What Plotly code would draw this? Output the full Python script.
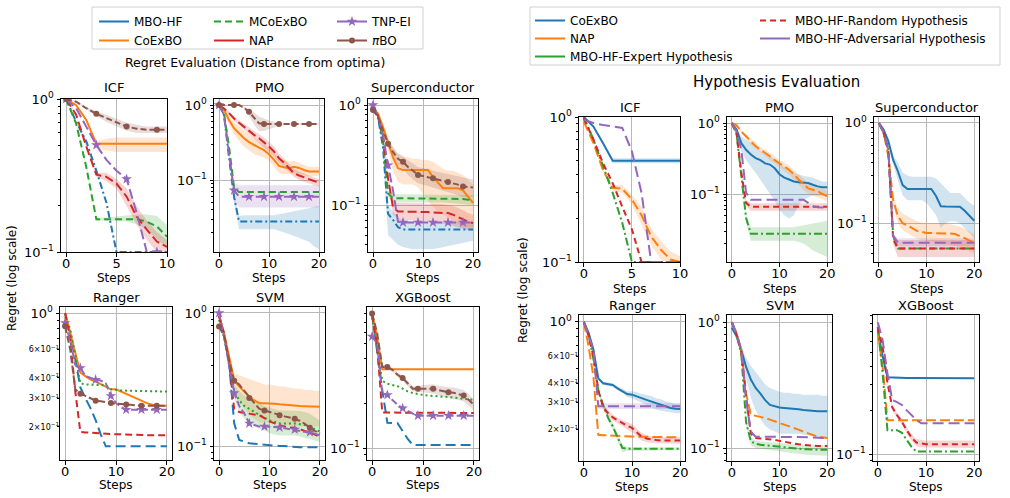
import plotly.graph_objects as go

W, H = 1010, 498
FONT = 'DejaVu Sans'
GRID = '#b8b8b8'
BLUE, ORANGE, GREEN, RED, PURPLE, BROWN = '#1f77b4', '#ff7f0e', '#2ca02c', '#d62728', '#9467bd', '#8c564b'

steps10 = [0, 1, 2, 3, 4, 5, 6, 7, 8, 9, 10]
steps20 = [0, 1, 2, 3, 4, 5, 6, 7, 8, 9, 10, 11, 12, 13, 14, 15, 16, 17, 18, 19, 20]
xticks10 = [0, 5, 10]
xticks20 = [0, 10, 20]

# ---------------- Regret Evaluation (left group) ----------------
# ICF
icf_mbo_hf     = [1.00, 0.71, 0.53, 0.34, 0.21, 0.100, 0.100, 0.100, 0.100, 0.100, 0.100]
icf_coexbo     = [1.00, 0.91, 0.73, 0.51, 0.51, 0.51, 0.51, 0.51, 0.51, 0.51, 0.51]
icf_coexbo_lo  = [1.00, 0.90, 0.72, 0.48, 0.46, 0.45, 0.45, 0.45, 0.45, 0.45, 0.45]
icf_coexbo_hi  = [1.00, 0.92, 0.74, 0.53, 0.55, 0.56, 0.56, 0.56, 0.56, 0.56, 0.56]
icf_mcoexbo    = [1.00, 0.69, 0.36, 0.164, 0.164, 0.164, 0.164, 0.164, 0.158, 0.147, 0.126]
icf_mcoexbo_lo = [1.00, 0.68, 0.35, 0.160, 0.160, 0.160, 0.158, 0.152, 0.140, 0.122, 0.105]
icf_mcoexbo_hi = [1.00, 0.70, 0.37, 0.168, 0.168, 0.170, 0.172, 0.176, 0.176, 0.172, 0.150]
icf_nap        = [1.00, 0.79, 0.49, 0.32, 0.31, 0.28, 0.23, 0.17, 0.14, 0.117, 0.108]
icf_nap_lo     = [1.00, 0.78, 0.48, 0.31, 0.29, 0.26, 0.20, 0.15, 0.12, 0.100, 0.095]
icf_nap_hi     = [1.00, 0.80, 0.50, 0.33, 0.33, 0.30, 0.26, 0.20, 0.16, 0.135, 0.120]
icf_tnp_ei     = [1.00, 0.87, 0.66, 0.50, 0.40, 0.34, 0.30, 0.18, 0.100, 0.100, 0.100]
icf_pibo       = [1.00, 0.96, 0.87, 0.80, 0.75, 0.70, 0.66, 0.64, 0.63, 0.63, 0.63]
icf_pibo_lo    = [1.00, 0.95, 0.85, 0.77, 0.71, 0.66, 0.62, 0.60, 0.60, 0.60, 0.60]
icf_pibo_hi    = [1.00, 0.97, 0.89, 0.83, 0.79, 0.74, 0.70, 0.68, 0.66, 0.66, 0.66]

# PMO
pmo_mbo_hf    = [1.00, 0.74, 0.20, 0.060, 0.028, 0.028, 0.028, 0.028, 0.028, 0.028, 0.028, 0.028, 0.028, 0.028, 0.028, 0.028, 0.028, 0.028, 0.028, 0.028, 0.028]
pmo_mbo_hf_lo = [1.00, 0.73, 0.19, 0.050, 0.022, 0.022, 0.022, 0.022, 0.022, 0.022, 0.022, 0.022, 0.021, 0.020, 0.019, 0.018, 0.017, 0.016, 0.015, 0.013, 0.012]
pmo_mbo_hf_hi = [1.00, 0.75, 0.21, 0.070, 0.033, 0.034, 0.034, 0.034, 0.034, 0.034, 0.034, 0.034, 0.035, 0.036, 0.037, 0.038, 0.039, 0.040, 0.042, 0.044, 0.045]
pmo_coexbo    = [1.00, 0.86, 0.63, 0.49, 0.42, 0.36, 0.32, 0.29, 0.27, 0.25, 0.22, 0.185, 0.154, 0.148, 0.143, 0.150, 0.145, 0.136, 0.130, 0.130, 0.130]
pmo_coexbo_lo = [1.00, 0.80, 0.55, 0.40, 0.33, 0.28, 0.25, 0.22, 0.21, 0.20, 0.18, 0.150, 0.125, 0.120, 0.118, 0.122, 0.120, 0.115, 0.112, 0.112, 0.112]
pmo_coexbo_hi = [1.00, 0.92, 0.72, 0.60, 0.52, 0.45, 0.40, 0.36, 0.33, 0.30, 0.27, 0.230, 0.200, 0.185, 0.175, 0.180, 0.170, 0.160, 0.150, 0.150, 0.150]
pmo_mcoexbo   = [1.00, 0.77, 0.28, 0.081, 0.069, 0.069, 0.069, 0.069, 0.069, 0.069, 0.069, 0.069, 0.069, 0.069, 0.069, 0.069, 0.069, 0.069, 0.069, 0.069, 0.069]
pmo_nap       = [1.00, 0.90, 0.78, 0.66, 0.58, 0.51, 0.45, 0.40, 0.36, 0.32, 0.28, 0.24, 0.195, 0.170, 0.145, 0.123, 0.115, 0.108, 0.102, 0.097, 0.092]
pmo_nap_lo    = [1.00, 0.88, 0.74, 0.62, 0.53, 0.46, 0.40, 0.35, 0.31, 0.27, 0.24, 0.20, 0.170, 0.150, 0.130, 0.110, 0.100, 0.095, 0.090, 0.085, 0.082]
pmo_nap_hi    = [1.00, 0.92, 0.82, 0.70, 0.63, 0.56, 0.50, 0.45, 0.41, 0.37, 0.32, 0.28, 0.225, 0.195, 0.165, 0.140, 0.130, 0.122, 0.115, 0.108, 0.102]
pmo_tnp_ei    = [1.00, 0.74, 0.23, 0.073, 0.060, 0.060, 0.060, 0.060, 0.060, 0.060, 0.060, 0.060, 0.060, 0.060, 0.060, 0.060, 0.060, 0.060, 0.060, 0.060, 0.060]
pmo_tnp_ei_lo = [1.00, 0.72, 0.20, 0.055, 0.043, 0.043, 0.043, 0.043, 0.043, 0.043, 0.043, 0.043, 0.043, 0.043, 0.043, 0.043, 0.043, 0.043, 0.043, 0.043, 0.043]
pmo_tnp_ei_hi = [1.00, 0.76, 0.26, 0.090, 0.085, 0.085, 0.085, 0.085, 0.085, 0.085, 0.085, 0.085, 0.085, 0.085, 0.085, 0.085, 0.085, 0.085, 0.085, 0.085, 0.085]
pmo_pibo      = [1.00, 1.00, 1.00, 1.00, 1.00, 0.92, 0.81, 0.68, 0.57, 0.56, 0.56, 0.56, 0.56, 0.56, 0.56, 0.56, 0.56, 0.56, 0.56, 0.56, 0.56]
pmo_pibo_lo   = [1.00, 1.00, 1.00, 1.00, 1.00, 0.88, 0.72, 0.55, 0.45, 0.45, 0.47, 0.50, 0.53, 0.54, 0.55, 0.55, 0.55, 0.55, 0.55, 0.55, 0.55]
pmo_pibo_hi   = [1.00, 1.00, 1.00, 1.00, 1.00, 0.95, 0.88, 0.80, 0.70, 0.66, 0.62, 0.60, 0.58, 0.57, 0.57, 0.57, 0.57, 0.57, 0.57, 0.57, 0.57]

# Superconductor
sup_mbo_hf     = [0.93, 0.75, 0.38, 0.082, 0.071, 0.060, 0.057, 0.057, 0.057, 0.057, 0.057, 0.057, 0.057, 0.057, 0.057, 0.057, 0.057, 0.057, 0.057, 0.057, 0.057]
sup_mbo_hf_lo  = [0.93, 0.73, 0.33, 0.050, 0.045, 0.040, 0.038, 0.037, 0.036, 0.036, 0.036, 0.036, 0.036, 0.037, 0.038, 0.039, 0.040, 0.041, 0.042, 0.043, 0.044]
sup_mbo_hf_hi  = [0.93, 0.77, 0.42, 0.100, 0.085, 0.075, 0.070, 0.069, 0.068, 0.068, 0.068, 0.068, 0.068, 0.068, 0.068, 0.068, 0.068, 0.068, 0.068, 0.068, 0.068]
sup_coexbo     = [0.90, 0.82, 0.60, 0.42, 0.30, 0.233, 0.224, 0.224, 0.224, 0.224, 0.224, 0.224, 0.190, 0.165, 0.147, 0.147, 0.147, 0.147, 0.140, 0.120, 0.105]
sup_coexbo_lo  = [0.90, 0.80, 0.55, 0.36, 0.22, 0.170, 0.160, 0.160, 0.160, 0.150, 0.130, 0.110, 0.095, 0.085, 0.080, 0.075, 0.070, 0.065, 0.060, 0.060, 0.060]
sup_coexbo_hi  = [0.90, 0.85, 0.66, 0.48, 0.38, 0.320, 0.300, 0.300, 0.290, 0.290, 0.280, 0.280, 0.270, 0.250, 0.230, 0.220, 0.220, 0.210, 0.200, 0.180, 0.160]
sup_mcoexbo    = [0.96, 0.76, 0.45, 0.130, 0.117, 0.117, 0.117, 0.117, 0.117, 0.117, 0.117, 0.117, 0.117, 0.117, 0.117, 0.117, 0.117, 0.116, 0.115, 0.113, 0.112]
sup_mcoexbo_lo = [0.96, 0.75, 0.44, 0.120, 0.106, 0.106, 0.106, 0.106, 0.106, 0.106, 0.106, 0.106, 0.106, 0.106, 0.106, 0.106, 0.105, 0.104, 0.103, 0.101, 0.100]
sup_mcoexbo_hi = [0.96, 0.77, 0.46, 0.140, 0.128, 0.128, 0.128, 0.128, 0.128, 0.128, 0.128, 0.128, 0.128, 0.128, 0.128, 0.128, 0.128, 0.127, 0.126, 0.125, 0.125]
sup_nap        = [0.90, 0.78, 0.50, 0.185, 0.095, 0.086, 0.086, 0.086, 0.086, 0.085, 0.085, 0.085, 0.084, 0.084, 0.083, 0.083, 0.080, 0.076, 0.071, 0.068, 0.066]
sup_nap_lo     = [0.90, 0.76, 0.46, 0.160, 0.080, 0.072, 0.070, 0.070, 0.070, 0.069, 0.069, 0.068, 0.067, 0.066, 0.065, 0.064, 0.062, 0.060, 0.058, 0.056, 0.055]
sup_nap_hi     = [0.90, 0.80, 0.54, 0.210, 0.110, 0.105, 0.105, 0.105, 0.104, 0.104, 0.104, 0.103, 0.103, 0.102, 0.102, 0.100, 0.098, 0.094, 0.088, 0.083, 0.080]
sup_tnp_ei     = [1.00, 0.79, 0.50, 0.25, 0.14, 0.068, 0.067, 0.067, 0.067, 0.067, 0.067, 0.067, 0.067, 0.067, 0.067, 0.067, 0.067, 0.067, 0.067, 0.067, 0.067]
sup_pibo       = [0.89, 0.76, 0.56, 0.41, 0.34, 0.29, 0.27, 0.24, 0.22, 0.200, 0.195, 0.190, 0.185, 0.180, 0.175, 0.170, 0.165, 0.160, 0.153, 0.152, 0.150]
sup_pibo_lo    = [0.89, 0.75, 0.54, 0.38, 0.30, 0.25, 0.23, 0.20, 0.18, 0.165, 0.160, 0.155, 0.150, 0.145, 0.140, 0.135, 0.130, 0.125, 0.120, 0.120, 0.120]
sup_pibo_hi    = [0.89, 0.77, 0.58, 0.44, 0.38, 0.33, 0.31, 0.28, 0.26, 0.240, 0.235, 0.230, 0.220, 0.215, 0.210, 0.205, 0.200, 0.195, 0.190, 0.185, 0.180]

# Ranger
rng_mbo_hf  = [1.00, 0.75, 0.52, 0.35, 0.30, 0.26, 0.22, 0.18, 0.152, 0.152, 0.152, 0.152, 0.152, 0.152, 0.152, 0.152, 0.152, 0.152, 0.152, 0.152, 0.152]
rng_coexbo  = [1.00, 0.75, 0.55, 0.43, 0.41, 0.39, 0.38, 0.365, 0.35, 0.34, 0.34, 0.33, 0.32, 0.31, 0.30, 0.29, 0.28, 0.275, 0.27, 0.27, 0.27]
rng_mcoexbo = [0.95, 0.80, 0.55, 0.37, 0.365, 0.363, 0.362, 0.36, 0.36, 0.34, 0.336, 0.335, 0.334, 0.333, 0.332, 0.332, 0.331, 0.33, 0.33, 0.33, 0.33]
rng_nap     = [1.00, 0.70, 0.33, 0.186, 0.185, 0.184, 0.183, 0.182, 0.181, 0.180, 0.180, 0.180, 0.179, 0.179, 0.179, 0.178, 0.178, 0.178, 0.178, 0.178, 0.178]
rng_tnp_ei  = [0.87, 0.68, 0.48, 0.46, 0.41, 0.40, 0.39, 0.385, 0.37, 0.31, 0.28, 0.265, 0.255, 0.255, 0.255, 0.255, 0.255, 0.255, 0.255, 0.255, 0.255]
rng_pibo    = [0.83, 0.60, 0.34, 0.32, 0.31, 0.30, 0.29, 0.287, 0.285, 0.28, 0.278, 0.276, 0.275, 0.273, 0.272, 0.27, 0.27, 0.27, 0.27, 0.27, 0.27]

# SVM
svm_mbo_hf     = [0.95, 0.70, 0.42, 0.148, 0.111, 0.108, 0.105, 0.104, 0.103, 0.102, 0.102, 0.101, 0.100, 0.100, 0.099, 0.098, 0.098, 0.098, 0.098, 0.098, 0.098]
svm_coexbo     = [0.95, 0.70, 0.47, 0.31, 0.28, 0.255, 0.235, 0.22, 0.21, 0.21, 0.21, 0.208, 0.206, 0.204, 0.202, 0.200, 0.200, 0.199, 0.198, 0.197, 0.197]
svm_coexbo_lo  = [0.95, 0.68, 0.43, 0.27, 0.22, 0.19, 0.17, 0.16, 0.15, 0.15, 0.15, 0.148, 0.146, 0.144, 0.142, 0.140, 0.140, 0.140, 0.140, 0.140, 0.140]
svm_coexbo_hi  = [0.95, 0.72, 0.50, 0.35, 0.34, 0.33, 0.32, 0.31, 0.30, 0.29, 0.29, 0.285, 0.280, 0.280, 0.275, 0.270, 0.270, 0.265, 0.265, 0.260, 0.260]
svm_mcoexbo    = [0.89, 0.65, 0.42, 0.26, 0.22, 0.20, 0.19, 0.18, 0.17, 0.163, 0.156, 0.152, 0.148, 0.148, 0.148, 0.148, 0.146, 0.144, 0.140, 0.134, 0.128]
svm_mcoexbo_lo = [0.89, 0.63, 0.40, 0.23, 0.18, 0.16, 0.15, 0.14, 0.135, 0.130, 0.125, 0.122, 0.120, 0.120, 0.120, 0.120, 0.118, 0.116, 0.113, 0.110, 0.107]
svm_mcoexbo_hi = [0.89, 0.67, 0.44, 0.29, 0.26, 0.24, 0.23, 0.22, 0.21, 0.200, 0.195, 0.190, 0.185, 0.185, 0.185, 0.185, 0.183, 0.180, 0.175, 0.165, 0.155]
svm_nap        = [0.95, 0.70, 0.42, 0.19, 0.18, 0.178, 0.176, 0.173, 0.17, 0.162, 0.153, 0.148, 0.143, 0.140, 0.138, 0.137, 0.134, 0.130, 0.127, 0.122, 0.117]
svm_tnp_ei     = [1.00, 0.67, 0.40, 0.25, 0.20, 0.176, 0.148, 0.143, 0.14, 0.14, 0.14, 0.139, 0.138, 0.136, 0.134, 0.133, 0.130, 0.129, 0.127, 0.124, 0.120]
svm_pibo       = [0.79, 0.67, 0.44, 0.31, 0.29, 0.26, 0.23, 0.21, 0.19, 0.185, 0.18, 0.175, 0.170, 0.167, 0.164, 0.160, 0.155, 0.147, 0.137, 0.130, 0.124]

# XGBoost
xgb_mbo_hf  = [0.80, 0.43, 0.245, 0.148, 0.148, 0.147, 0.130, 0.115, 0.105, 0.105, 0.105, 0.105, 0.105, 0.105, 0.105, 0.105, 0.105, 0.105, 0.105, 0.105, 0.105]
xgb_coexbo  = [0.80, 0.55, 0.338, 0.338, 0.338, 0.338, 0.338, 0.338, 0.338, 0.338, 0.338, 0.338, 0.338, 0.338, 0.338, 0.338, 0.338, 0.338, 0.338, 0.338, 0.338]
xgb_mcoexbo = [0.75, 0.45, 0.283, 0.27, 0.265, 0.26, 0.25, 0.24, 0.234, 0.23, 0.227, 0.225, 0.223, 0.222, 0.221, 0.22, 0.218, 0.216, 0.214, 0.212, 0.21]
xgb_nap     = [0.78, 0.48, 0.173, 0.173, 0.173, 0.173, 0.173, 0.173, 0.173, 0.173, 0.173, 0.173, 0.173, 0.173, 0.172, 0.172, 0.172, 0.172, 0.172, 0.172, 0.172]
xgb_tnp_ei  = [0.56, 0.50, 0.233, 0.227, 0.21, 0.195, 0.185, 0.177, 0.17, 0.165, 0.165, 0.165, 0.165, 0.165, 0.165, 0.165, 0.165, 0.165, 0.165, 0.165, 0.165]
xgb_pibo    = [0.80, 0.59, 0.35, 0.35, 0.335, 0.31, 0.295, 0.27, 0.25, 0.25, 0.25, 0.25, 0.25, 0.245, 0.24, 0.237, 0.235, 0.23, 0.225, 0.21, 0.195]
xgb_pibo_lo = [0.80, 0.58, 0.34, 0.34, 0.325, 0.30, 0.285, 0.26, 0.24, 0.238, 0.236, 0.234, 0.232, 0.228, 0.222, 0.218, 0.215, 0.21, 0.205, 0.19, 0.178]
xgb_pibo_hi = [0.80, 0.60, 0.36, 0.36, 0.345, 0.32, 0.305, 0.28, 0.26, 0.262, 0.264, 0.266, 0.268, 0.262, 0.258, 0.256, 0.255, 0.25, 0.245, 0.23, 0.212]

# ---------------- Hypothesis Evaluation (right group) ----------------
h_icf_coexbo      = [1.00, 0.86, 0.66, 0.50, 0.50, 0.50, 0.50, 0.50, 0.50, 0.50, 0.50]
h_icf_coexbo_lo   = [1.00, 0.85, 0.65, 0.48, 0.48, 0.48, 0.48, 0.48, 0.48, 0.48, 0.48]
h_icf_coexbo_hi   = [1.00, 0.87, 0.67, 0.52, 0.52, 0.52, 0.52, 0.52, 0.52, 0.52, 0.52]
h_icf_nap         = [0.93, 0.66, 0.43, 0.325, 0.32, 0.27, 0.21, 0.15, 0.122, 0.104, 0.100]
h_icf_nap_lo      = [0.93, 0.65, 0.42, 0.31, 0.30, 0.25, 0.18, 0.13, 0.105, 0.095, 0.090]
h_icf_nap_hi      = [0.93, 0.67, 0.44, 0.34, 0.34, 0.29, 0.24, 0.17, 0.140, 0.118, 0.110]
h_icf_expert      = [1.00, 0.70, 0.46, 0.30, 0.186, 0.100, 0.100, 0.100, 0.100, 0.100, 0.100]
h_icf_random      = [0.98, 0.70, 0.48, 0.35, 0.24, 0.168, 0.100, 0.100, 0.100, 0.100, 0.100]
h_icf_adversarial = [0.96, 0.91, 0.88, 0.86, 0.84, 0.58, 0.30, 0.100, 0.100, 0.100, 0.100]

h_pmo_coexbo      = [1.00, 0.81, 0.52, 0.42, 0.36, 0.32, 0.30, 0.27, 0.26, 0.23, 0.19, 0.17, 0.16, 0.15, 0.146, 0.146, 0.143, 0.135, 0.128, 0.125, 0.125]
h_pmo_coexbo_lo   = [1.00, 0.75, 0.40, 0.30, 0.24, 0.20, 0.16, 0.13, 0.10, 0.08, 0.06, 0.05, 0.045, 0.05, 0.07, 0.08, 0.09, 0.095, 0.095, 0.095, 0.095]
h_pmo_coexbo_hi   = [1.00, 0.86, 0.65, 0.58, 0.52, 0.45, 0.40, 0.36, 0.34, 0.31, 0.27, 0.24, 0.22, 0.20, 0.19, 0.18, 0.175, 0.17, 0.16, 0.15, 0.15]
h_pmo_nap         = [1.00, 0.93, 0.76, 0.65, 0.55, 0.47, 0.42, 0.38, 0.34, 0.30, 0.27, 0.245, 0.22, 0.19, 0.16, 0.14, 0.12, 0.115, 0.11, 0.10, 0.093]
h_pmo_nap_lo      = [1.00, 0.90, 0.72, 0.60, 0.50, 0.43, 0.38, 0.34, 0.30, 0.27, 0.24, 0.21, 0.19, 0.16, 0.135, 0.115, 0.10, 0.095, 0.09, 0.085, 0.08]
h_pmo_nap_hi      = [1.00, 0.96, 0.80, 0.70, 0.60, 0.52, 0.46, 0.42, 0.38, 0.34, 0.30, 0.28, 0.25, 0.22, 0.19, 0.165, 0.14, 0.135, 0.13, 0.12, 0.11]
h_pmo_expert      = [1.00, 0.70, 0.18, 0.046, 0.0276, 0.0276, 0.0276, 0.0276, 0.0276, 0.0276, 0.0276, 0.0276, 0.0276, 0.0276, 0.0276, 0.0276, 0.0276, 0.0276, 0.0276, 0.0276, 0.0276]
h_pmo_expert_lo   = [1.00, 0.69, 0.17, 0.040, 0.022, 0.022, 0.022, 0.022, 0.022, 0.022, 0.022, 0.022, 0.022, 0.022, 0.021, 0.020, 0.018, 0.016, 0.015, 0.014, 0.013]
h_pmo_expert_hi   = [1.00, 0.71, 0.19, 0.052, 0.034, 0.034, 0.034, 0.034, 0.034, 0.034, 0.034, 0.034, 0.034, 0.034, 0.035, 0.036, 0.037, 0.038, 0.040, 0.041, 0.042]
h_pmo_random      = [1.00, 0.72, 0.20, 0.075, 0.066, 0.066, 0.066, 0.066, 0.066, 0.066, 0.066, 0.066, 0.066, 0.066, 0.066, 0.066, 0.066, 0.066, 0.066, 0.066, 0.066]
h_pmo_random_lo   = [1.00, 0.71, 0.19, 0.068, 0.058, 0.058, 0.058, 0.058, 0.058, 0.058, 0.058, 0.058, 0.058, 0.058, 0.058, 0.058, 0.058, 0.058, 0.058, 0.058, 0.058]
h_pmo_random_hi   = [1.00, 0.73, 0.21, 0.082, 0.074, 0.074, 0.074, 0.074, 0.074, 0.074, 0.074, 0.074, 0.074, 0.074, 0.074, 0.074, 0.074, 0.074, 0.074, 0.074, 0.074]
h_pmo_adversarial = [1.00, 0.76, 0.42, 0.104, 0.083, 0.083, 0.083, 0.083, 0.083, 0.083, 0.083, 0.083, 0.083, 0.083, 0.083, 0.083, 0.075, 0.067, 0.065, 0.064, 0.064]

h_sup_coexbo         = [1.00, 0.86, 0.66, 0.43, 0.33, 0.24, 0.22, 0.22, 0.22, 0.22, 0.22, 0.22, 0.187, 0.148, 0.147, 0.146, 0.146, 0.146, 0.133, 0.120, 0.106]
h_sup_coexbo_lo      = [1.00, 0.84, 0.62, 0.38, 0.27, 0.19, 0.17, 0.17, 0.17, 0.17, 0.16, 0.14, 0.120, 0.090, 0.100, 0.105, 0.105, 0.100, 0.090, 0.080, 0.070]
h_sup_coexbo_hi      = [1.00, 0.88, 0.70, 0.48, 0.40, 0.32, 0.30, 0.29, 0.29, 0.29, 0.29, 0.29, 0.280, 0.250, 0.220, 0.200, 0.200, 0.200, 0.180, 0.160, 0.150]
h_sup_nap            = [1.00, 0.80, 0.47, 0.17, 0.118, 0.100, 0.095, 0.090, 0.084, 0.082, 0.080, 0.080, 0.080, 0.080, 0.080, 0.079, 0.078, 0.075, 0.071, 0.067, 0.064]
h_sup_nap_lo         = [1.00, 0.78, 0.44, 0.15, 0.100, 0.085, 0.080, 0.075, 0.070, 0.068, 0.066, 0.065, 0.064, 0.063, 0.062, 0.061, 0.060, 0.058, 0.055, 0.052, 0.050]
h_sup_nap_hi         = [1.00, 0.82, 0.50, 0.19, 0.140, 0.125, 0.118, 0.112, 0.105, 0.102, 0.100, 0.100, 0.100, 0.100, 0.100, 0.098, 0.096, 0.093, 0.088, 0.083, 0.078]
h_sup_expert         = [1.00, 0.80, 0.55, 0.075, 0.056, 0.056, 0.056, 0.056, 0.056, 0.056, 0.056, 0.056, 0.056, 0.056, 0.056, 0.056, 0.056, 0.056, 0.056, 0.056, 0.056]
h_sup_random         = [1.00, 0.80, 0.54, 0.070, 0.056, 0.056, 0.056, 0.056, 0.056, 0.056, 0.056, 0.056, 0.056, 0.056, 0.056, 0.056, 0.056, 0.056, 0.056, 0.056, 0.056]
h_sup_random_lo      = [1.00, 0.79, 0.52, 0.062, 0.046, 0.046, 0.046, 0.046, 0.046, 0.046, 0.046, 0.046, 0.046, 0.046, 0.046, 0.046, 0.046, 0.046, 0.046, 0.046, 0.046]
h_sup_random_hi      = [1.00, 0.81, 0.56, 0.078, 0.068, 0.068, 0.068, 0.068, 0.068, 0.068, 0.068, 0.068, 0.068, 0.068, 0.068, 0.068, 0.068, 0.068, 0.068, 0.068, 0.068]
h_sup_adversarial    = [1.00, 0.80, 0.54, 0.075, 0.064, 0.064, 0.064, 0.064, 0.064, 0.064, 0.064, 0.064, 0.064, 0.064, 0.064, 0.064, 0.064, 0.064, 0.064, 0.064, 0.064]
h_sup_adversarial_lo = [1.00, 0.79, 0.53, 0.070, 0.059, 0.059, 0.059, 0.059, 0.059, 0.059, 0.059, 0.059, 0.059, 0.059, 0.059, 0.059, 0.059, 0.059, 0.059, 0.059, 0.059]
h_sup_adversarial_hi = [1.00, 0.81, 0.55, 0.080, 0.071, 0.071, 0.071, 0.071, 0.071, 0.071, 0.071, 0.071, 0.071, 0.071, 0.071, 0.071, 0.071, 0.071, 0.071, 0.071, 0.071]

h_rng_coexbo      = [1.00, 0.85, 0.66, 0.43, 0.40, 0.395, 0.39, 0.37, 0.355, 0.34, 0.337, 0.33, 0.32, 0.312, 0.305, 0.297, 0.29, 0.283, 0.276, 0.273, 0.272]
h_rng_coexbo_lo   = [1.00, 0.84, 0.64, 0.42, 0.39, 0.385, 0.38, 0.36, 0.345, 0.325, 0.32, 0.31, 0.30, 0.29, 0.28, 0.27, 0.265, 0.26, 0.258, 0.256, 0.255]
h_rng_coexbo_hi   = [1.00, 0.86, 0.68, 0.44, 0.41, 0.405, 0.40, 0.38, 0.37, 0.355, 0.355, 0.35, 0.34, 0.335, 0.33, 0.32, 0.315, 0.305, 0.30, 0.295, 0.295]
h_rng_nap         = [1.00, 0.69, 0.44, 0.185, 0.184, 0.183, 0.182, 0.182, 0.181, 0.181, 0.180, 0.180, 0.180, 0.179, 0.179, 0.179, 0.178, 0.178, 0.178, 0.178, 0.178]
h_rng_expert      = [1.00, 0.83, 0.57, 0.36, 0.29, 0.24, 0.21, 0.18, 0.152, 0.150, 0.150, 0.150, 0.150, 0.150, 0.150, 0.150, 0.150, 0.150, 0.150, 0.150, 0.150]
h_rng_expert_lo   = [1.00, 0.82, 0.56, 0.35, 0.28, 0.23, 0.20, 0.17, 0.142, 0.146, 0.147, 0.147, 0.147, 0.147, 0.147, 0.147, 0.147, 0.147, 0.147, 0.147, 0.147]
h_rng_expert_hi   = [1.00, 0.84, 0.58, 0.37, 0.30, 0.25, 0.22, 0.19, 0.160, 0.154, 0.153, 0.153, 0.153, 0.153, 0.153, 0.153, 0.153, 0.153, 0.153, 0.153, 0.153]
h_rng_random      = [1.00, 0.81, 0.60, 0.36, 0.28, 0.256, 0.24, 0.23, 0.22, 0.212, 0.205, 0.192, 0.18, 0.175, 0.172, 0.171, 0.17, 0.17, 0.17, 0.17, 0.17]
h_rng_random_lo   = [1.00, 0.80, 0.58, 0.35, 0.27, 0.245, 0.23, 0.22, 0.21, 0.200, 0.193, 0.181, 0.17, 0.166, 0.164, 0.163, 0.162, 0.162, 0.162, 0.162, 0.162]
h_rng_random_hi   = [1.00, 0.82, 0.62, 0.37, 0.29, 0.267, 0.25, 0.24, 0.23, 0.224, 0.217, 0.203, 0.19, 0.184, 0.180, 0.179, 0.178, 0.178, 0.178, 0.178, 0.178]
h_rng_adversarial = [1.00, 0.81, 0.66, 0.283, 0.283, 0.283, 0.283, 0.283, 0.283, 0.283, 0.283, 0.283, 0.283, 0.283, 0.283, 0.283, 0.283, 0.283, 0.283, 0.283, 0.283]
h_rng_adversarial_lo = [1.00, 0.80, 0.65, 0.272, 0.272, 0.272, 0.272, 0.272, 0.272, 0.272, 0.272, 0.272, 0.272, 0.272, 0.272, 0.272, 0.272, 0.272, 0.272, 0.272, 0.272]
h_rng_adversarial_hi = [1.00, 0.82, 0.67, 0.296, 0.296, 0.296, 0.296, 0.296, 0.296, 0.296, 0.296, 0.296, 0.296, 0.296, 0.296, 0.296, 0.296, 0.296, 0.296, 0.296, 0.296]

h_svm_coexbo      = [0.90, 0.77, 0.60, 0.44, 0.35, 0.30, 0.27, 0.24, 0.22, 0.214, 0.21, 0.208, 0.207, 0.205, 0.203, 0.200, 0.198, 0.197, 0.196, 0.196, 0.196]
h_svm_coexbo_lo   = [0.90, 0.75, 0.55, 0.36, 0.25, 0.20, 0.17, 0.15, 0.14, 0.135, 0.13, 0.13, 0.13, 0.13, 0.13, 0.128, 0.126, 0.124, 0.122, 0.12, 0.12]
h_svm_coexbo_hi   = [0.90, 0.80, 0.65, 0.52, 0.45, 0.40, 0.36, 0.32, 0.30, 0.29, 0.28, 0.275, 0.275, 0.27, 0.27, 0.265, 0.265, 0.265, 0.265, 0.26, 0.26]
h_svm_nap         = [1.00, 0.80, 0.60, 0.27, 0.184, 0.181, 0.178, 0.173, 0.168, 0.163, 0.158, 0.154, 0.150, 0.145, 0.140, 0.135, 0.130, 0.127, 0.123, 0.121, 0.120]
h_svm_expert      = [1.00, 0.80, 0.55, 0.16, 0.113, 0.108, 0.106, 0.105, 0.104, 0.103, 0.103, 0.102, 0.101, 0.100, 0.099, 0.098, 0.098, 0.097, 0.097, 0.097, 0.097]
h_svm_expert_lo   = [1.00, 0.79, 0.53, 0.15, 0.105, 0.100, 0.098, 0.097, 0.096, 0.095, 0.094, 0.093, 0.092, 0.091, 0.090, 0.089, 0.088, 0.087, 0.087, 0.087, 0.087]
h_svm_expert_hi   = [1.00, 0.81, 0.57, 0.17, 0.120, 0.115, 0.113, 0.112, 0.111, 0.110, 0.110, 0.109, 0.108, 0.107, 0.106, 0.105, 0.105, 0.105, 0.105, 0.105, 0.105]
h_svm_random      = [1.00, 0.80, 0.58, 0.257, 0.130, 0.120, 0.119, 0.118, 0.118, 0.116, 0.114, 0.112, 0.110, 0.108, 0.107, 0.106, 0.105, 0.105, 0.104, 0.104, 0.104]
h_svm_adversarial = [1.00, 0.82, 0.60, 0.24, 0.135, 0.123, 0.123, 0.123, 0.123, 0.123, 0.123, 0.123, 0.123, 0.123, 0.123, 0.123, 0.122, 0.121, 0.121, 0.120, 0.120]

h_xgb_coexbo      = [0.72, 0.47, 0.338, 0.336, 0.335, 0.335, 0.334, 0.334, 0.334, 0.334, 0.333, 0.333, 0.333, 0.333, 0.333, 0.333, 0.333, 0.333, 0.333, 0.333, 0.333]
h_xgb_nap         = [0.68, 0.40, 0.171, 0.171, 0.171, 0.171, 0.171, 0.171, 0.171, 0.171, 0.171, 0.171, 0.171, 0.171, 0.171, 0.171, 0.171, 0.171, 0.171, 0.171, 0.171]
h_xgb_expert      = [0.75, 0.36, 0.146, 0.146, 0.146, 0.140, 0.125, 0.112, 0.104, 0.104, 0.104, 0.104, 0.104, 0.104, 0.104, 0.104, 0.104, 0.104, 0.104, 0.104, 0.104]
h_xgb_random      = [0.75, 0.55, 0.31, 0.21, 0.185, 0.167, 0.146, 0.130, 0.120, 0.118, 0.117, 0.117, 0.117, 0.117, 0.117, 0.117, 0.117, 0.117, 0.117, 0.117, 0.117]
h_xgb_random_lo   = [0.75, 0.54, 0.30, 0.20, 0.177, 0.159, 0.139, 0.123, 0.113, 0.111, 0.110, 0.110, 0.110, 0.110, 0.110, 0.110, 0.110, 0.110, 0.110, 0.110, 0.110]
h_xgb_random_hi   = [0.75, 0.56, 0.32, 0.22, 0.193, 0.175, 0.153, 0.137, 0.127, 0.125, 0.124, 0.124, 0.124, 0.124, 0.124, 0.124, 0.124, 0.124, 0.124, 0.124, 0.124]
h_xgb_adversarial = [0.81, 0.61, 0.36, 0.236, 0.228, 0.218, 0.200, 0.185, 0.172, 0.163, 0.163, 0.163, 0.163, 0.163, 0.163, 0.163, 0.163, 0.163, 0.163, 0.163, 0.163]

# ---------------- styles ----------------
DOT = '2px,3px'
fig = go.Figure()


def rgba(c, a):
    return 'rgba(%d,%d,%d,%s)' % (int(c[1:3], 16), int(c[3:5], 16), int(c[5:7], 16), a)


def names(i):
    return ('x' if i == 1 else 'x%d' % i, 'y' if i == 1 else 'y%d' % i)


def S(x, y, color, dash, lo=None, hi=None, marker=None):
    return dict(x=x, y=y, color=color, dash=dash, lo=lo, hi=hi, marker=marker)


def add_panel(i, series):
    xa, ya = names(i)
    for s in series:
        if s['lo'] is not None:
            x = s['x']
            fig.add_trace(go.Scatter(x=x + x[::-1], y=s['hi'] + s['lo'][::-1], fill='toself',
                                     fillcolor=rgba(s['color'], 0.2), line=dict(width=0), mode='lines',
                                     hoverinfo='skip', showlegend=False, xaxis=xa, yaxis=ya))
    for s in series:
        fig.add_trace(go.Scatter(x=s['x'], y=s['y'], mode='lines',
                                 line=dict(color=s['color'], width=2, dash=s['dash']),
                                 hoverinfo='skip', showlegend=False, xaxis=xa, yaxis=ya))
        if s['marker']:
            idx = list(range(0, len(s['x']), 3))
            fig.add_trace(go.Scatter(x=[s['x'][k] for k in idx], y=[s['y'][k] for k in idx], mode='markers',
                                     marker=dict(symbol=s['marker'], size=8 if s['marker'] == 'star' else 6,
                                                 color=s['color'], line=dict(width=0)),
                                     hoverinfo='skip', showlegend=False, xaxis=xa, yaxis=ya))


LT = dict(mbo='7px,3px,2px,3px', mco='7px,4px', nap='9px,4px', tnp='10px,4px', pibo='6px,3px')
LB = dict(mbo='10px,5px', mco=DOT, nap='7px,4px', tnp='7px,3px', pibo='7px,3px')
RS = dict(nap='10px,4px', exp='8px,3px,2px,3px', rnd='6px,4px', adv='11px,5px')

add_panel(1, [
    S(steps10, icf_mbo_hf, BLUE, LT['mbo']),
    S(steps10, icf_coexbo, ORANGE, 'solid', icf_coexbo_lo, icf_coexbo_hi),
    S(steps10, icf_mcoexbo, GREEN, LT['mco'], icf_mcoexbo_lo, icf_mcoexbo_hi),
    S(steps10, icf_nap, RED, LT['nap'], icf_nap_lo, icf_nap_hi),
    S(steps10, icf_tnp_ei, PURPLE, LT['tnp'], marker='star'),
    S(steps10, icf_pibo, BROWN, LT['pibo'], icf_pibo_lo, icf_pibo_hi, marker='circle'),
])
add_panel(2, [
    S(steps20, pmo_mbo_hf, BLUE, LT['mbo'], pmo_mbo_hf_lo, pmo_mbo_hf_hi),
    S(steps20, pmo_coexbo, ORANGE, 'solid', pmo_coexbo_lo, pmo_coexbo_hi),
    S(steps20, pmo_mcoexbo, GREEN, LT['mco']),
    S(steps20, pmo_nap, RED, LT['nap'], pmo_nap_lo, pmo_nap_hi),
    S(steps20, pmo_tnp_ei, PURPLE, LT['tnp'], pmo_tnp_ei_lo, pmo_tnp_ei_hi, marker='star'),
    S(steps20, pmo_pibo, BROWN, LT['pibo'], pmo_pibo_lo, pmo_pibo_hi, marker='circle'),
])
add_panel(3, [
    S(steps20, sup_mbo_hf, BLUE, LT['mbo'], sup_mbo_hf_lo, sup_mbo_hf_hi),
    S(steps20, sup_coexbo, ORANGE, 'solid', sup_coexbo_lo, sup_coexbo_hi),
    S(steps20, sup_mcoexbo, GREEN, LT['mco'], sup_mcoexbo_lo, sup_mcoexbo_hi),
    S(steps20, sup_nap, RED, LT['nap'], sup_nap_lo, sup_nap_hi),
    S(steps20, sup_tnp_ei, PURPLE, LT['tnp'], marker='star'),
    S(steps20, sup_pibo, BROWN, LT['pibo'], sup_pibo_lo, sup_pibo_hi, marker='circle'),
])
add_panel(4, [
    S(steps20, rng_mbo_hf, BLUE, LB['mbo']),
    S(steps20, rng_coexbo, ORANGE, 'solid'),
    S(steps20, rng_mcoexbo, GREEN, LB['mco']),
    S(steps20, rng_nap, RED, LB['nap']),
    S(steps20, rng_tnp_ei, PURPLE, LB['tnp'], marker='star'),
    S(steps20, rng_pibo, BROWN, LB['pibo'], marker='circle'),
])
add_panel(5, [
    S(steps20, svm_mbo_hf, BLUE, LB['mbo']),
    S(steps20, svm_coexbo, ORANGE, 'solid', svm_coexbo_lo, svm_coexbo_hi),
    S(steps20, svm_mcoexbo, GREEN, LB['mco'], svm_mcoexbo_lo, svm_mcoexbo_hi),
    S(steps20, svm_nap, RED, LB['nap']),
    S(steps20, svm_tnp_ei, PURPLE, LB['tnp'], marker='star'),
    S(steps20, svm_pibo, BROWN, LB['pibo'], marker='circle'),
])
add_panel(6, [
    S(steps20, xgb_mbo_hf, BLUE, LB['mbo']),
    S(steps20, xgb_coexbo, ORANGE, 'solid'),
    S(steps20, xgb_mcoexbo, GREEN, LB['mco']),
    S(steps20, xgb_nap, RED, LB['nap']),
    S(steps20, xgb_tnp_ei, PURPLE, LB['tnp'], marker='star'),
    S(steps20, xgb_pibo, BROWN, LB['pibo'], xgb_pibo_lo, xgb_pibo_hi, marker='circle'),
])
add_panel(7, [
    S(steps10, h_icf_coexbo, BLUE, 'solid', h_icf_coexbo_lo, h_icf_coexbo_hi),
    S(steps10, h_icf_nap, ORANGE, RS['nap'], h_icf_nap_lo, h_icf_nap_hi),
    S(steps10, h_icf_expert, GREEN, RS['exp']),
    S(steps10, h_icf_random, RED, RS['rnd']),
    S(steps10, h_icf_adversarial, PURPLE, RS['adv']),
])
add_panel(8, [
    S(steps20, h_pmo_coexbo, BLUE, 'solid', h_pmo_coexbo_lo, h_pmo_coexbo_hi),
    S(steps20, h_pmo_nap, ORANGE, RS['nap'], h_pmo_nap_lo, h_pmo_nap_hi),
    S(steps20, h_pmo_expert, GREEN, RS['exp'], h_pmo_expert_lo, h_pmo_expert_hi),
    S(steps20, h_pmo_random, RED, RS['rnd'], h_pmo_random_lo, h_pmo_random_hi),
    S(steps20, h_pmo_adversarial, PURPLE, RS['adv']),
])
add_panel(9, [
    S(steps20, h_sup_coexbo, BLUE, 'solid', h_sup_coexbo_lo, h_sup_coexbo_hi),
    S(steps20, h_sup_nap, ORANGE, RS['nap'], h_sup_nap_lo, h_sup_nap_hi),
    S(steps20, h_sup_expert, GREEN, RS['exp']),
    S(steps20, h_sup_random, RED, RS['rnd'], h_sup_random_lo, h_sup_random_hi),
    S(steps20, h_sup_adversarial, PURPLE, RS['adv'], h_sup_adversarial_lo, h_sup_adversarial_hi),
])
add_panel(10, [
    S(steps20, h_rng_coexbo, BLUE, 'solid', h_rng_coexbo_lo, h_rng_coexbo_hi),
    S(steps20, h_rng_nap, ORANGE, RS['nap']),
    S(steps20, h_rng_expert, GREEN, RS['exp'], h_rng_expert_lo, h_rng_expert_hi),
    S(steps20, h_rng_random, RED, RS['rnd'], h_rng_random_lo, h_rng_random_hi),
    S(steps20, h_rng_adversarial, PURPLE, RS['adv'], h_rng_adversarial_lo, h_rng_adversarial_hi),
])
add_panel(11, [
    S(steps20, h_svm_coexbo, BLUE, 'solid', h_svm_coexbo_lo, h_svm_coexbo_hi),
    S(steps20, h_svm_nap, ORANGE, RS['nap']),
    S(steps20, h_svm_expert, GREEN, RS['exp'], h_svm_expert_lo, h_svm_expert_hi),
    S(steps20, h_svm_random, RED, RS['rnd']),
    S(steps20, h_svm_adversarial, PURPLE, RS['adv']),
])
add_panel(12, [
    S(steps20, h_xgb_coexbo, BLUE, 'solid'),
    S(steps20, h_xgb_nap, ORANGE, RS['nap']),
    S(steps20, h_xgb_expert, GREEN, RS['exp']),
    S(steps20, h_xgb_random, RED, RS['rnd'], h_xgb_random_lo, h_xgb_random_hi),
    S(steps20, h_xgb_adversarial, PURPLE, RS['adv']),
])

# ---------------- axes ----------------
PANELS = [
    (1, 61, 167, 99, 252, [-0.5, 10], xticks10, [-1.0, 0.0], [0.1, 1], 'ICF', 88, 278),
    (2, 214, 324, 99, 252, [-1, 21], xticks20, [-1.96, 0.08], [0.1, 1], 'PMO', 88, 278),
    (3, 368, 478, 99, 252, [-1, 21], xticks20, [-1.47, 0.06], [0.1, 1], 'Superconductor', 88, 278),
    (4, 60, 172, 307, 460, [-1, 21], xticks20, [-0.902, 0.037], [1], 'Ranger', 297, 485),
    (5, 214, 325, 307, 460, [-1, 21], xticks20, [-1.105, 0.045], [0.1, 1], 'SVM', 297, 485),
    (6, 367, 479, 307, 460, [-1, 21], xticks20, [-1.08, -0.054], [0.1], 'XGBoost', 297, 485),
    (7, 579, 680, 117, 262, [-0.5, 10], xticks10, [-1.0, 0.0], [0.1, 1], 'ICF', 107, 289),
    (8, 727, 832, 117, 262, [-1, 21], xticks20, [-1.958, 0.085], [0.1, 1], 'PMO', 107, 289),
    (9, 874, 979, 117, 262, [-1, 21], xticks20, [-1.386, 0.059], [0.1, 1], 'Superconductor', 107, 289),
    (10, 579, 685, 315, 461, [-1, 21], xticks20, [-0.903, 0.045], [1], 'Ranger', 305, 487),
    (11, 727, 832, 315, 461, [-1, 21], xticks20, [-1.103, 0.056], [0.1, 1], 'SVM', 305, 487),
    (12, 873, 979, 315, 461, [-1, 21], xticks20, [-1.048, -0.041], [0.1], 'XGBoost', 305, 487),
]
YLBL = {1: '10<sup>0</sup>', 0.1: '10<sup>\u22121</sup>'}
SMALL_LBL = {0.2: '2\u00d710<sup>\u22121</sup>', 0.3: '3\u00d710<sup>\u22121</sup>',
             0.4: '4\u00d710<sup>\u22121</sup>', 0.6: '6\u00d710<sup>\u22121</sup>'}

layout = dict(width=W, height=H, autosize=False,
              margin=dict(l=0, r=0, t=0, b=0, pad=0, autoexpand=False),
              plot_bgcolor='white', paper_bgcolor='white',
              font=dict(family=FONT, color='black'), showlegend=True)
annotations = []
next_axis = 13
for (i, l, r, t, b, xr, xt, yr, ymaj, title, ty, sy) in PANELS:
    xa, ya = names(i)
    xk = 'xaxis' if i == 1 else 'xaxis%d' % i
    yk = 'yaxis' if i == 1 else 'yaxis%d' % i
    layout[xk] = dict(domain=[l / W, r / W], range=xr, anchor=ya, tickmode='array', tickvals=xt,
                      ticks='outside', ticklen=3.5, tickwidth=1, tickcolor='black', showline=True,
                      linecolor='black', linewidth=1, mirror=True, showgrid=True, gridcolor=GRID,
                      gridwidth=0.8, zeroline=False, automargin=False, ticklabelstandoff=-4,
                      tickfont=dict(family=FONT, size=13, color='black'))
    lo, hi = 10 ** yr[0], 10 ** yr[1]
    minor = [k * 10 ** e for e in (-3, -2, -1, 0) for k in range(2, 10) if lo <= k * 10 ** e <= hi]
    layout[yk] = dict(domain=[1 - b / H, 1 - t / H], type='log', range=yr, anchor=xa, tickmode='array',
                      tickvals=ymaj, ticktext=[YLBL[v] for v in ymaj], ticks='outside', ticklen=3.5,
                      tickwidth=1, tickcolor='black', showline=True, linecolor='black', linewidth=1,
                      mirror=True, showgrid=True, gridcolor=GRID, gridwidth=0.8, zeroline=False,
                      automargin=False, tickfont=dict(family=FONT, size=13, color='black'),
                      minor=dict(tickmode='array', tickvals=minor, ticks='outside', ticklen=2,
                                 tickcolor='black', showgrid=False))
    if title == 'Ranger':
        ok = 'yaxis%d' % next_axis
        vals = [0.2, 0.3, 0.4, 0.6]
        layout[ok] = dict(overlaying=ya, anchor=xa, side='left', type='log', range=yr, tickmode='array',
                          tickvals=vals, ticktext=[SMALL_LBL[v] for v in vals], ticks='', showgrid=False,
                          showline=False, zeroline=False, automargin=False,
                          tickfont=dict(family=FONT, size=8, color='black'))
        fig.add_trace(go.Scatter(x=[None], y=[None], xaxis=xa, yaxis='y%d' % next_axis, showlegend=False,
                                 hoverinfo='skip'))
        next_axis += 1
    annotations.append(dict(x=(l + r) / 2 / W, y=1 - ty / H, xref='paper', yref='paper', text=title,
                            showarrow=False, font=dict(family=FONT, size=13, color='black'),
                            xanchor='center', yanchor='middle'))
    annotations.append(dict(x=(l + r) / 2 / W, y=1 - sy / H, xref='paper', yref='paper', text='Steps',
                            showarrow=False, font=dict(family=FONT, size=12, color='black'),
                            xanchor='center', yanchor='middle'))

for (txt, x, y, sz, ang) in [
    ('Regret Evaluation (Distance from optima)', 255, 62, 12.5, 0),
    ('Hypothesis Evaluation', 776, 82, 15, 0),
    ('Regret (log scale)', 12, 278, 12, -90),
    ('Regret (log scale)', 523, 290, 12, -90),
]:
    annotations.append(dict(x=x / W, y=1 - y / H, xref='paper', yref='paper', text=txt, showarrow=False,
                            textangle=ang, font=dict(family=FONT, size=sz, color='black'),
                            xanchor='center', yanchor='middle'))
layout['annotations'] = annotations

layout['shapes'] = [
    dict(type='rect', xref='paper', yref='paper', x0=92 / W, x1=423 / W, y0=1 - 49 / H, y1=1 - 7 / H,
         line=dict(color='#d0d0d0', width=1), fillcolor='rgba(255,255,255,0.8)', layer='below'),
    dict(type='rect', xref='paper', yref='paper', x0=530 / W, x1=1000 / W, y0=1 - 65 / H, y1=1 - 7 / H,
         line=dict(color='#d0d0d0', width=1), fillcolor='rgba(255,255,255,0.8)', layer='below'),
]

# one legend per entry: (name, colour, dash, marker, left px, row-centre px)
LEGEND_ITEMS = [
    ('MBO-HF', BLUE, 'solid', None, 94, 17),
    ('CoExBO', ORANGE, 'solid', None, 94, 36),
    ('MCoExBO', GREEN, '7px,4px', None, 209, 17),
    ('NAP', RED, 'solid', None, 209, 36),
    ('TNP-EI', PURPLE, 'solid', 'star', 332, 17),
    ('<i>\u03c0</i>BO', BROWN, 'solid', 'circle', 332, 36),
    ('CoExBO', BLUE, 'solid', None, 530, 16),
    ('NAP', ORANGE, 'solid', None, 530, 34),
    ('MBO-HF-Expert Hypothesis', GREEN, 'solid', None, 530, 52),
    ('MBO-HF-Random Hypothesis', RED, '6px,4px', None, 755, 16),
    ('MBO-HF-Adversarial Hypothesis', PURPLE, 'solid', None, 755, 34),
]
for n, (name, col, dash, mk, lx, ly) in enumerate(LEGEND_ITEMS):
    key = 'legend' if n == 0 else 'legend%d' % (n + 1)
    layout[key] = dict(x=lx / W, y=1 - (ly - 10) / H, xanchor='left', yanchor='top', bgcolor='rgba(0,0,0,0)',
                       borderwidth=0, font=dict(family=FONT, size=12, color='black'), tracegroupgap=0,
                       orientation='v')
    fig.add_trace(go.Scatter(x=[None], y=[None], name=name, legend=key,
                             mode='lines+markers' if mk else 'lines',
                             line=dict(color=col, width=2, dash=dash),
                             marker=dict(symbol=mk or 'circle', size=8 if mk == 'star' else 6, color=col),
                             xaxis='x', yaxis='y', showlegend=True))

fig.update_layout(**layout)
fig.write_html('out.html')
